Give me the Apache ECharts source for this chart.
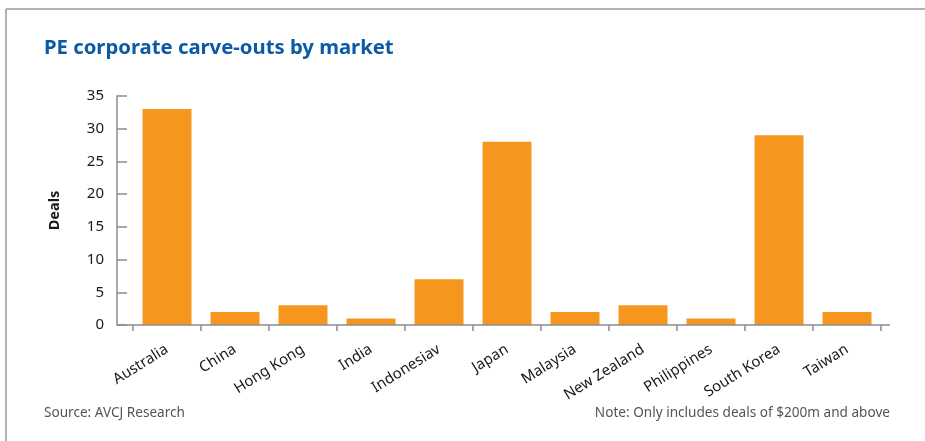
<!DOCTYPE html>
<html>
<head>
<meta charset="utf-8">
<script src="https://cdn.jsdelivr.net/npm/echarts@6/dist/echarts.min.js"></script>
<style>html,body{margin:0;padding:0;background:#fff;}#c{width:925px;height:441px;}</style>
</head>
<body>
<div id="c"></div>
<script>
const categories = ['Australia','China','Hong Kong','India','Indonesiav','Japan','Malaysia','New Zealand','Philippines','South Korea','Taiwan'];
const deals = [33, 2, 3, 1, 7, 28, 2, 3, 1, 29, 2];
const yTicks = [0, 5, 10, 15, 20, 25, 30, 35];

const chart = echarts.init(document.getElementById('c'), null, {renderer: 'canvas'});
const FONT = '"Noto Sans", "Open Sans", sans-serif';
const AX = '#8c8c8c';
chart.setOption({
  animation: false,
  backgroundColor: '#fff',
  title: {
    text: 'PE corporate carve-outs by market',
    left: 39, top: 33,
    textStyle: {fontFamily: FONT, fontWeight: 'bold', fontSize: 20.3, color: '#0b5aa6'}
  },
  grid: {left: 133, right: 44, top: 96, bottom: 116},
  xAxis: {
    type: 'category',
    data: categories,
    axisLine: {show: false},
    axisTick: {show: true, alignWithLabel: false, length: 6, lineStyle: {color: AX, width: 1.5}},
    axisLabel: {rotate: 32, fontFamily: FONT, fontSize: 15, color: '#1a1a1a', margin: 23, interval: 0}
  },
  yAxis: {
    type: 'value',
    min: yTicks[0], max: yTicks[yTicks.length - 1], interval: 5,
    offset: 16,
    name: 'Deals',
    nameLocation: 'middle',
    nameGap: 55,
    nameTextStyle: {fontFamily: FONT, fontWeight: 'bold', fontSize: 14.5, color: '#1a1a1a'},
    axisLine: {show: true, lineStyle: {color: AX, width: 1.5}},
    axisTick: {show: true, inside: true, length: 10, lineStyle: {color: AX, width: 1.5}},
    axisLabel: {fontFamily: FONT, fontSize: 15, color: '#1a1a1a', margin: 13},
    splitLine: {show: false}
  },
  series: [{
    type: 'bar',
    data: deals,
    barWidth: '72%',
    itemStyle: {color: '#f7961f'}
  }],
  graphic: [
    {type: 'line', shape: {x1: 6, y1: 9, x2: 925, y2: 9}, style: {stroke: '#999', lineWidth: 1.5}},
    {type: 'line', shape: {x1: 6, y1: 9, x2: 6, y2: 441}, style: {stroke: '#999', lineWidth: 1.5}},
    {type: 'line', shape: {x1: 117, y1: 325, x2: 890, y2: 325}, style: {stroke: AX, lineWidth: 1.5}, z: 10},
    {type: 'text', left: 44, top: 406, style: {text: 'Source: AVCJ Research', font: '13.6px ' + FONT, fill: '#555'}},
    {type: 'text', right: 35, top: 406, style: {text: 'Note: Only includes deals of $200m and above', font: '13.6px ' + FONT, fill: '#555'}}
  ]
});
</script>
</body>
</html>
